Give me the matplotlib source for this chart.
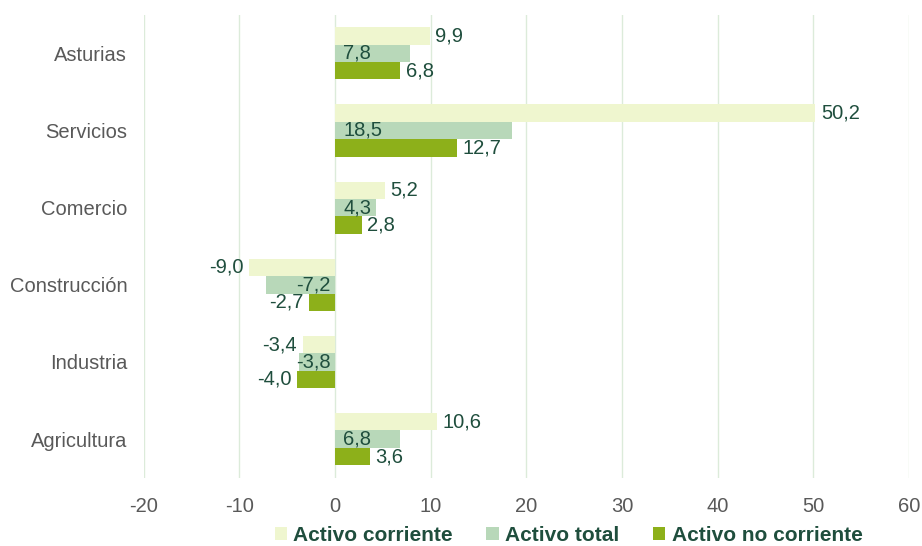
import numpy as np
import matplotlib.pyplot as plt

plt.rcParams['font.family'] = ['Liberation Sans', 'DejaVu Sans']
plt.rcParams['axes.unicode_minus'] = False

categories = ['Agricultura', 'Industria', 'Construcción', 'Comercio', 'Servicios', 'Asturias']
activo_corriente = [10.6, -3.4, -9.0, 5.2, 50.2, 9.9]
activo_total = [6.8, -3.8, -7.2, 4.3, 18.5, 7.8]
activo_no_corriente = [3.6, -4.0, -2.7, 2.8, 12.7, 6.8]

c_corr = '#EFF6CF'
c_tot = '#B8D8B9'
c_nocorr = '#8DB01A'
txt = '#1F4E3D'

fig = plt.figure(figsize=(9.22, 5.46), dpi=100)
ax = fig.add_axes([0.156, 0.125, 0.83, 0.848])

y = np.arange(len(categories))
h = 0.225

b1 = ax.barh(y + h, activo_corriente, h, color=c_corr, label='Activo corriente', zorder=2)
b2 = ax.barh(y, activo_total, h, color=c_tot, label='Activo total', zorder=2)
b3 = ax.barh(y - h, activo_no_corriente, h, color=c_nocorr, label='Activo no corriente', zorder=2)

def fmt(v):
    return f'{v:.1f}'.replace('.', ',')

fs = 14.5

# etiquetas fuera del extremo
for bars, vals in [(b1, activo_corriente), (b3, activo_no_corriente)]:
    for rect, v in zip(bars, vals):
        yc = rect.get_y() + rect.get_height() / 2
        if v >= 0:
            ax.annotate(fmt(v), (v, yc), xytext=(4, 0), textcoords='offset points',
                        ha='left', va='center', fontsize=fs, color=txt)
        else:
            ax.annotate(fmt(v), (v, yc), xytext=(-4, 0), textcoords='offset points',
                        ha='right', va='center', fontsize=fs, color=txt)

# etiquetas dentro de la base
for rect, v in zip(b2, activo_total):
    yc = rect.get_y() + rect.get_height() / 2
    if v >= 0:
        ax.annotate(fmt(v), (0, yc), xytext=(6, 0), textcoords='offset points',
                    ha='left', va='center', fontsize=fs, color=txt)
    else:
        ax.annotate(fmt(v), (0, yc), xytext=(-3, 0), textcoords='offset points',
                    ha='right', va='center', fontsize=fs, color=txt)

ax.set_xlim(-20, 60)
ax.set_ylim(-0.5, 5.5)
ax.set_xticks(range(-20, 61, 10))
ax.set_yticks(y)
ax.set_yticklabels(categories)
ax.tick_params(axis='both', length=0, labelsize=fs, colors='#595959')
ax.tick_params(axis='x', pad=14)
ax.tick_params(axis='y', pad=12)
ax.grid(axis='x', color='#DCEBDA', linewidth=1, zorder=0)
for s in ax.spines.values():
    s.set_visible(False)

ax.legend(loc='center', bbox_to_anchor=(0.555, -0.125), ncol=3, frameon=False,
          prop={'weight': 'bold', 'size': 15}, labelcolor=txt,
          handlelength=0.6, handleheight=0.6, handletextpad=0.3, columnspacing=1.6,
          borderpad=0)

fig.savefig('out.png', dpi=100)
